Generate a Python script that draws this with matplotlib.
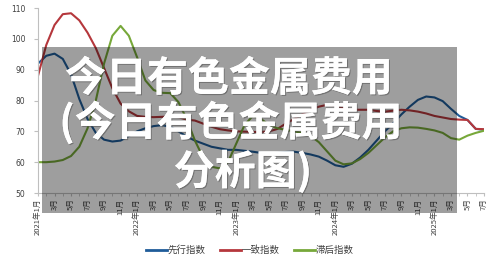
import matplotlib
matplotlib.use("Agg")
import matplotlib.pyplot as plt
from matplotlib.lines import Line2D
from matplotlib.patches import Rectangle
import matplotlib.patheffects as pe

plt.rcParams['font.family'] = ['Noto Sans CJK SC', 'DejaVu Sans']

# ---- data (monthly, 2021-01 .. 2025-07) ----
years = [2021, 2022, 2023, 2024, 2025]
series_names = ["先行指数", "一致指数", "滞后指数"]
leading = [92, 94.5, 95.2, 93.5, 88.5, 80.5, 74, 69.5, 67.3, 66.7, 67, 68.5, 70, 71, 71.7,
           72, 71.5, 70, 68.3, 67, 66, 65, 64.5, 64, 64, 63.7, 63.4, 63, 62.9, 63, 63.3,
           63.4, 63, 62.5, 61.8, 60.5, 59, 58.5, 59.5, 61.5, 64, 67, 70, 72.6, 75.5, 78,
           80.2, 81.3, 81, 79.8, 77.3, 75, 73.7, 70.8, 70.5]
coincident = [88, 98, 104.5, 108, 108.3, 106, 102, 97, 90.5, 84, 79, 76.5, 75, 74.7, 74.6,
              74.7, 74.8, 74.6, 73.8, 73.5, 72.5, 71.5, 70.7, 70.3, 70, 69.9, 69.8, 69.8,
              70, 70.8, 72.5, 74, 75.5, 77, 78, 78.6, 78.3, 77.5, 77, 77, 77, 76.6, 76.4,
              76.7, 77, 76.8, 76.4, 75.8, 75, 74.5, 74, 73.8, 73.7, 70.8, 70.7]
lagging = [60, 60, 60.2, 60.7, 62, 65, 71, 80, 92, 101, 104.2, 101, 94, 86.5, 83.4, 82.5,
           82.4, 79.5, 74, 67, 61.5, 58.5, 58, 60, 66, 72, 75, 74, 72, 71, 70.5, 70, 69.5,
           68.5, 66.5, 63.5, 60.5, 59.3, 59.6, 61, 63, 65.5, 68, 70, 71, 71.3, 71.2, 70.8,
           70.3, 69.5, 67.8, 67.3, 68.6, 69.5, 70.2]
y_ticks = [50, 60, 70, 80, 90, 100, 110]
title_lines = ["今日有色金属费用", "(今日有色金属费用", "分析图)"]

n = len(leading)
months = list(range(n))
tick_labels = []
for i in months:
    y = years[0] + i // 12
    m = i % 12 + 1
    tick_labels.append(f"{y}年{m}月" if m == 1 else f"{m}月")

colors = ["#1f5c99", "#b5373c", "#77a83a"]

fig = plt.figure(figsize=(5.0, 2.61), dpi=100)
ax = fig.add_axes([0.076, 0.2605, 0.892, 0.7088])

for vals, c, name in zip([leading, coincident, lagging], colors, series_names):
    ax.plot(months, vals, color=c, lw=1.5, label=name, solid_capstyle='round')

ax.set_xlim(0, n - 1)
ax.set_ylim(50, 110)
ax.set_yticks(y_ticks)
ax.set_yticklabels([str(v) for v in y_ticks], fontsize=5.5, color="#404040",
                   family=['DejaVu Sans'])
ax.set_xticks(months[::2])
ax.set_xticklabels(tick_labels[::2], rotation=90, fontsize=5.5, color="#404040", va='top')
ax.set_xticks(months, minor=True)
ax.tick_params(axis='x', which='both', length=2.5, color="#bfbfbf", pad=1.5)
ax.tick_params(axis='y', length=3, color="#bfbfbf", pad=6)
for s in ['top', 'right']:
    ax.spines[s].set_visible(False)
for s in ['left', 'bottom']:
    ax.spines[s].set_color("#bfbfbf")
    ax.spines[s].set_linewidth(0.8)

handles = [Line2D([], [], color=c, lw=2) for c in colors]
fig.legend(handles, series_names, loc='center', bbox_to_anchor=(0.5, 0.042), ncol=3,
           frameon=False, fontsize=6.8, handlelength=2.2, columnspacing=1.5,
           handletextpad=0.1, labelcolor="#404040")

# gray overlay
fig.patches.append(Rectangle((0.084, 0.1839), 0.83, 0.636, transform=fig.transFigure,
                             facecolor='black', alpha=0.38, edgecolor='none', zorder=10))

shadow = [pe.withSimplePatchShadow(offset=(0.8, -0.8), shadow_rgbFace='#555555', alpha=0.6),
          pe.Normal()]
pos = [(0.458, 0.697), (0.462, 0.529), (0.486, 0.341)]
for (x, y), t in zip(pos, title_lines):
    fig.text(x, y, t, ha='center', va='center', fontsize=29.5, fontweight='heavy',
             color='white', zorder=11, path_effects=shadow)

fig.savefig("out.png", dpi=100)
